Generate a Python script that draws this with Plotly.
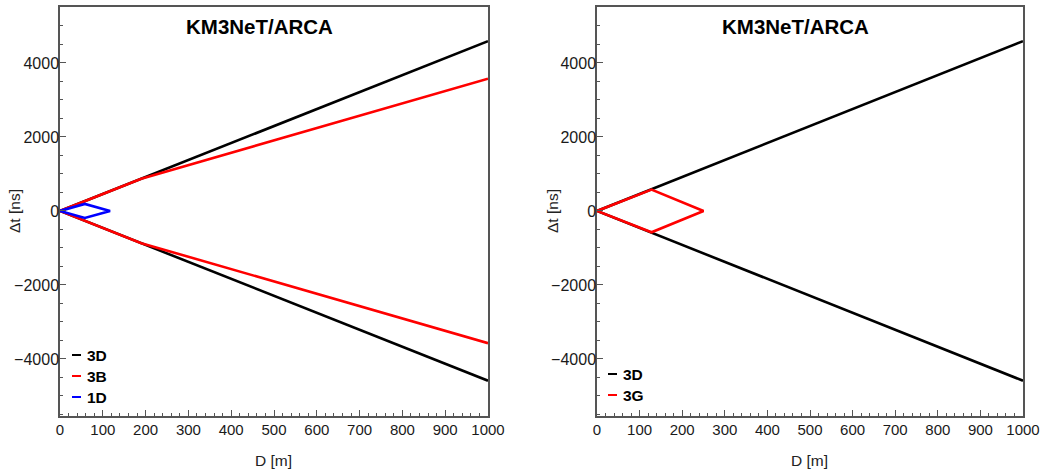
import plotly.graph_objects as go

# ---------------- data ----------------
# upper envelopes (lower envelope is the mirror image)
d_3d = [0, 1000]
dt_3d = [0, 4590]

d_3b = [0, 190, 1000]
dt_3b = [0, 872, 3575]

d_1d = [0, 58, 117, 58, 0]
dt_1d = [0, 190, 0, -190, 0]

d_3g = [0, 128, 250, 128, 0]
dt_3g = [0, 577, 0, -577, 0]

panel_title = "KM3NeT/ARCA"
legend_left = [("3D", "#000000"), ("3B", "#ff0000"), ("1D", "#0000ff")]
legend_right = [("3D", "#000000"), ("3G", "#ff0000")]

# ---------------- layout helpers ----------------
W, H = 1044, 473
FONT = "Liberation Sans, Arial, sans-serif"


def px(x):
    return x / W


def py(y):
    return 1 - y / H


def mirror(d, t):
    return d + [None] + d, t + [None] + [-v for v in t]


fig = go.Figure()

# left panel
x, y = mirror(d_3d, dt_3d)
fig.add_trace(go.Scatter(x=x, y=y, mode="lines", line=dict(color="#000000", width=2.6),
                         name="3D", showlegend=False, xaxis="x", yaxis="y"))
x, y = mirror(d_3b, dt_3b)
fig.add_trace(go.Scatter(x=x, y=y, mode="lines", line=dict(color="#ff0000", width=2.6),
                         name="3B", showlegend=False, xaxis="x", yaxis="y"))
fig.add_trace(go.Scatter(x=d_1d, y=dt_1d, mode="lines", line=dict(color="#0000ff", width=2.6),
                         name="1D", showlegend=False, xaxis="x", yaxis="y"))

# right panel
x, y = mirror(d_3d, dt_3d)
fig.add_trace(go.Scatter(x=x, y=y, mode="lines", line=dict(color="#000000", width=2.6),
                         name="3D", showlegend=False, xaxis="x2", yaxis="y2"))
fig.add_trace(go.Scatter(x=d_3g, y=dt_3g, mode="lines", line=dict(color="#ff0000", width=2.6),
                         name="3G", showlegend=False, xaxis="x2", yaxis="y2"))

AXCOL = "#555555"
xtickfont = dict(family=FONT, size=15, color="#1a1a1a")
ytickfont = dict(family=FONT, size=16, color="#1a1a1a")


def xax(dom):
    return dict(domain=dom, range=[0, 1000], dtick=100, tick0=0, ticks="inside", ticklen=6,
                tickwidth=1, tickcolor=AXCOL, showline=True, linecolor=AXCOL, linewidth=1.5,
                mirror=True, showgrid=False, zeroline=False, tickfont=xtickfont,
                minor=dict(dtick=20, tick0=0, ticks="inside", ticklen=3, tickcolor=AXCOL,
                           showgrid=False),
                automargin=False, fixedrange=True)


def yax(anchor):
    return dict(domain=[py(415.5), py(7.3)], range=[-5530, 5505], dtick=2000, tick0=0,
                ticks="inside", ticklen=6, tickwidth=1, tickcolor=AXCOL, showline=True,
                linecolor=AXCOL, linewidth=1.5, mirror=True, showgrid=False, zeroline=False,
                tickfont=ytickfont, anchor=anchor, ticklabelstandoff=-4,
                minor=dict(dtick=500, tick0=0, ticks="inside", ticklen=3, tickcolor=AXCOL,
                           showgrid=False),
                automargin=False, fixedrange=True)


xa1 = xax([px(60), px(488)])
xa1["anchor"] = "y"
xa2 = xax([px(597), px(1023)])
xa2["anchor"] = "y2"

annotations = []
shapes = []

# titles
for cx in (259, 795):
    annotations.append(dict(text="<b>%s</b>" % panel_title, x=px(cx), y=py(27), xref="paper",
                            yref="paper", showarrow=False, xanchor="center", yanchor="middle",
                            font=dict(family=FONT, size=20.5, color="#000000")))
# axis titles
for cx in (273.5, 809):
    annotations.append(dict(text="D [m]", x=px(cx), y=py(460), xref="paper", yref="paper",
                            showarrow=False, xanchor="center", yanchor="middle",
                            font=dict(family=FONT, size=15.5, color="#222222")))
for cx in (15, 553):
    annotations.append(dict(text="Δt [ns]", x=px(cx), y=py(211), xref="paper", yref="paper",
                            showarrow=False, xanchor="center", yanchor="middle", textangle=-90,
                            font=dict(family=FONT, size=15.5, color="#222222")))

# legends
def add_legend(items, x0, rows):
    for (lab, col), ry in zip(items, rows):
        shapes.append(dict(type="line", xref="paper", yref="paper", x0=px(x0), x1=px(x0 + 9),
                           y0=py(ry), y1=py(ry), line=dict(color=col, width=2)))
        annotations.append(dict(text="<b>%s</b>" % lab, x=px(x0 + 13), y=py(ry), xref="paper",
                                yref="paper", showarrow=False, xanchor="left", yanchor="middle",
                                font=dict(family=FONT, size=15.5, color="#000000")))


add_legend(legend_left, 72, [355, 376, 397])
add_legend(legend_right, 608, [374, 395])

fig.update_layout(
    width=W, height=H, margin=dict(l=0, r=0, t=0, b=0),
    paper_bgcolor="white", plot_bgcolor="white",
    xaxis=xa1, yaxis=yax("x"), xaxis2=xa2, yaxis2=yax("x2"),
    annotations=annotations, shapes=shapes, showlegend=False,
    font=dict(family=FONT),
)

fig.write_html("out.html", config={"displayModeBar": False},
               post_script="document.body.style.margin='0';document.body.style.overflow='hidden';")
